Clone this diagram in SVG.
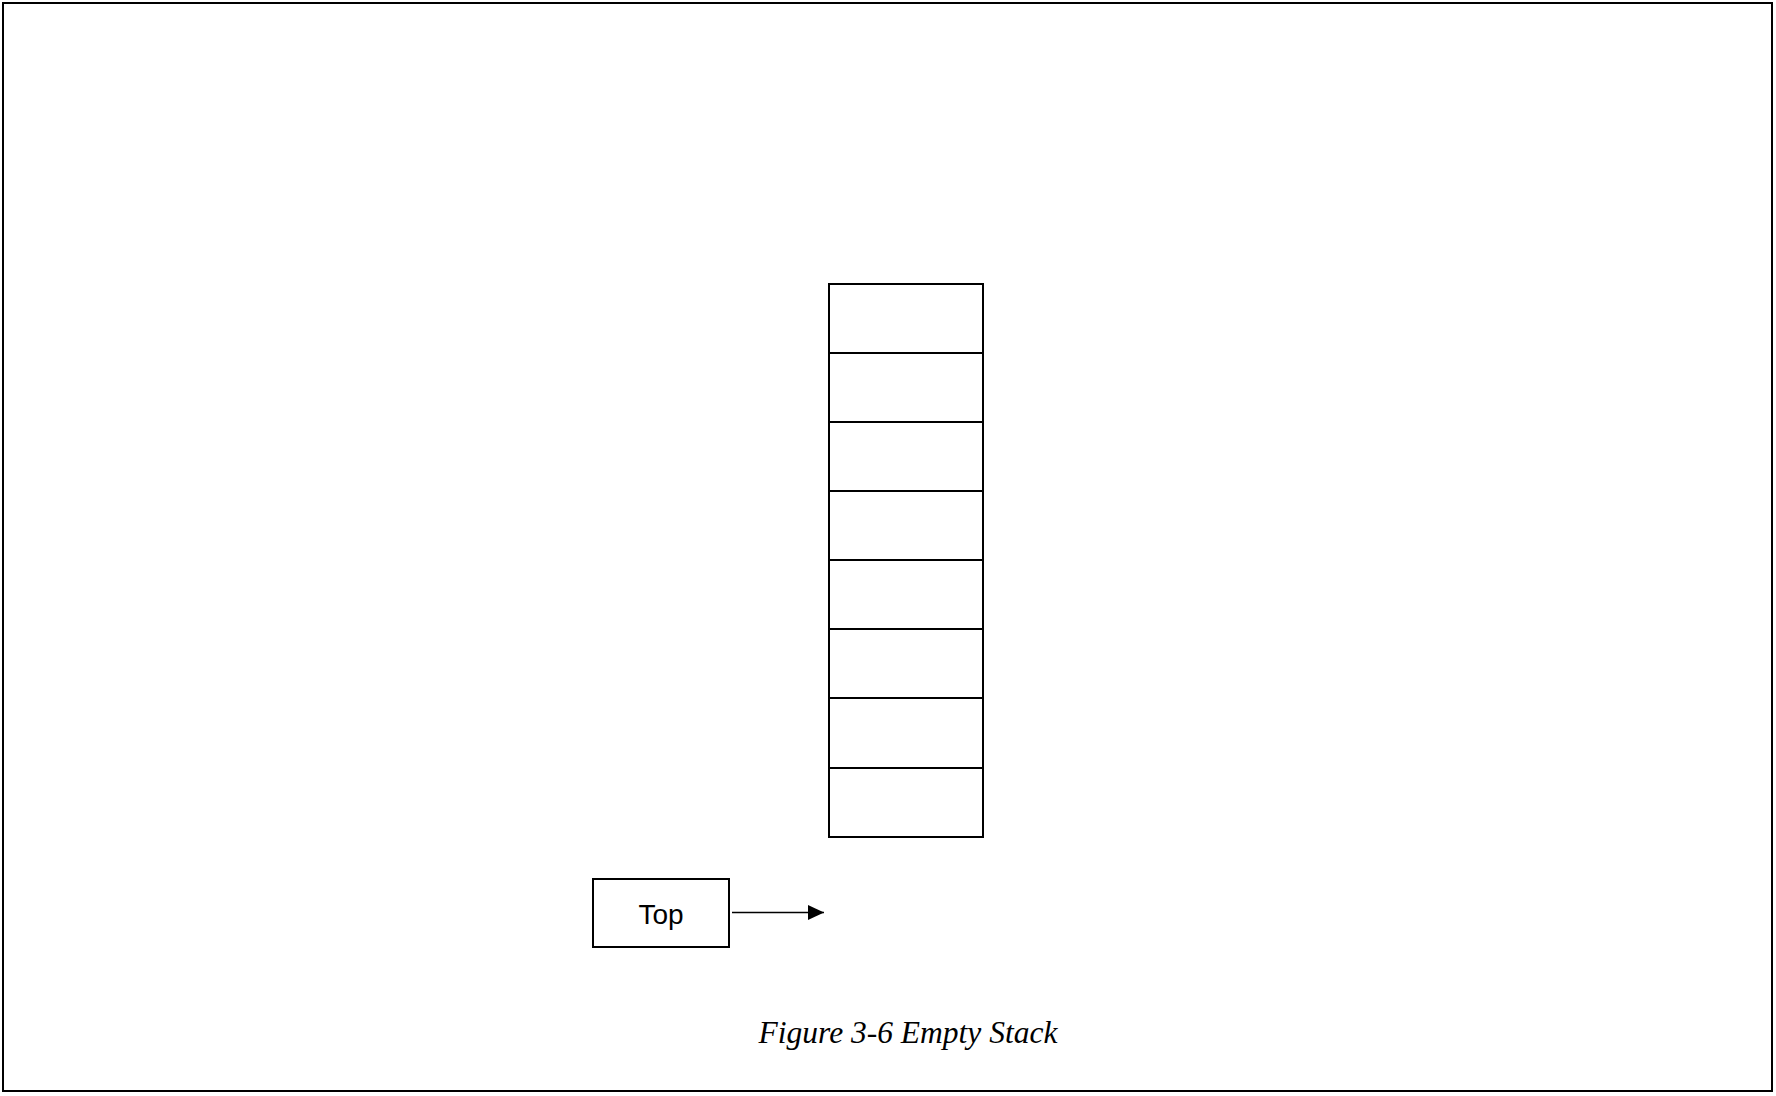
<svg xmlns="http://www.w3.org/2000/svg" width="1776" height="1096" viewBox="0 0 1776 1096">
<style>
.box{fill:#fff;stroke:#000;stroke-width:2}
.lbl{font-family:"Liberation Sans",Arial,sans-serif;font-size:28px;fill:#000;text-anchor:middle}
.cap{font-family:"Liberation Serif","Times New Roman",serif;font-style:italic;font-size:31.5px;fill:#000;text-anchor:middle}
</style>
<defs>
<marker id="arr" markerWidth="16" markerHeight="16" refX="16" refY="7.5" orient="auto" markerUnits="userSpaceOnUse">
<path d="M0,0 L16,7.5 L0,15 Z" fill="#000"/>
</marker>
</defs>
<rect x="0" y="0" width="1776" height="1096" fill="#fff"/>
<rect x="3" y="3" width="1769" height="1088" fill="none" stroke="#000" stroke-width="2"/>
<g id="stack">
<rect class="box" x="829" y="284" width="154" height="69"/>
<rect class="box" x="829" y="353" width="154" height="69"/>
<rect class="box" x="829" y="422" width="154" height="69"/>
<rect class="box" x="829" y="491" width="154" height="69"/>
<rect class="box" x="829" y="560" width="154" height="69"/>
<rect class="box" x="829" y="629" width="154" height="69"/>
<rect class="box" x="829" y="698" width="154" height="70"/>
<rect class="box" x="829" y="768" width="154" height="69"/>
</g>
<g id="top">
<rect class="box" x="593" y="879" width="136" height="68"/>
<text class="lbl" x="661" y="924">Top</text>
</g>
<g id="connectors">
<line x1="732" y1="912.5" x2="824" y2="912.5" stroke="#000" stroke-width="1.3" marker-end="url(#arr)"/>
</g>
<text class="cap" x="908" y="1043">Figure 3-6 Empty Stack</text>
</svg>
